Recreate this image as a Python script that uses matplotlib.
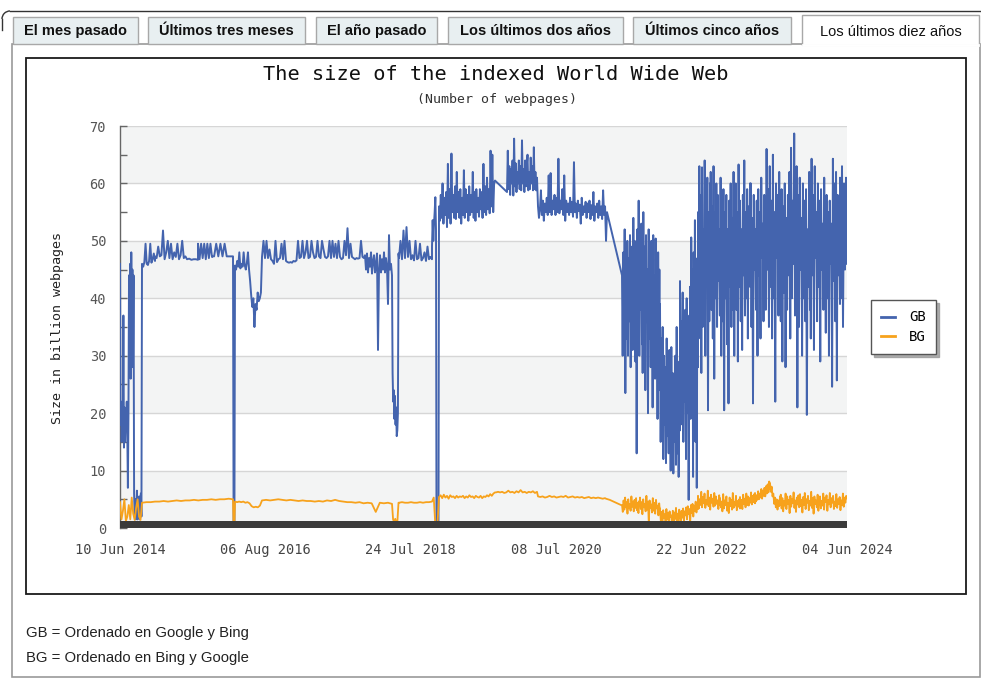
import numpy as np
import matplotlib
matplotlib.use('Agg')
import matplotlib.pyplot as plt
from matplotlib.patches import Rectangle, Arc
from matplotlib import font_manager

# ------------------------------------------------------------------
# DATA  (observation index 0..727 spans the ten-year window)
# ------------------------------------------------------------------
x_tick_labels = ['10 Jun 2014', '06 Aug 2016', '24 Jul 2018',
                 '08 Jul 2020', '22 Jun 2022', '04 Jun 2024']
n_obs = 727
series_names = ['GB', 'BG']

# GB  (Google + Bing), billions of pages -- each span = (first obs, last obs)
gb_01_span = (0, 22)
gb_01 = [46, 18, 22, 15, 20, 16, 37, 14, 21, 15, 19, 17, 22, 16, 7, 20, 44, 30, 46, 26,
         48, 33, 45, 28, 44, 6, 2, 5, 1.5, 3, 6.5, 1.5, 4, 2, 5.5, 1.5, 3, 6, 2, 43]
gb_02_span = (22, 35)
gb_02 = [46, 45.5, 46.3, 49.5, 46, 45.8, 46.5, 49.5, 46.2, 46.8, 47.8, 46.5]
gb_03_span = (35, 67)
gb_03 = [47.3, 47, 49, 47.3, 47.5, 51.8, 46.8, 48, 50, 47, 49.5, 46.8, 48, 47.2, 49.5,
         46.8, 47.5, 50, 47, 47.3, 46.8]
gb_04_span = (67, 78)
gb_04 = [46.8, 46.9, 46.7, 46.8, 46.8, 46.7]
gb_05_span = (78, 92)
gb_05 = [49.5, 46.8, 49.5, 47, 49.5, 46.8, 49.5, 47, 49.5, 47.2]
gb_06_span = (92, 113)
gb_06 = [47.3, 47.3, 49.5, 47.3, 49.5, 47.3, 49.5, 47.3, 47.3, 47.3, 47.3]
gb_07_span = (113.6, 114.4)
gb_07 = [0, 0]
gb_08_span = (115, 142)
gb_08 = [45.7, 45, 46.5, 45.5, 48, 45.2, 46, 45.5, 48, 45.8, 45, 46.2, 48, 45, 43, 40.5,
         38.5, 40, 35, 39, 38, 41, 39.5, 40, 41, 47]
gb_09_span = (142, 244)
gb_09 = [47.2, 50, 47, 50, 47, 48.5, 46.8, 46.5, 46, 50, 46.3, 46.8, 47, 49.5, 46.8, 50,
         46.5, 46.3, 46.2, 46.3, 46.2, 46.5, 46.4, 46.6, 50, 47, 47.2, 50, 47, 48, 50, 47,
         47.2, 50, 48, 47, 47.2, 50, 47.3, 47, 50, 48.5, 47.2, 47, 47.3, 50, 47, 50, 47.2,
         49.5, 47, 50, 47.2, 46.8, 47, 50, 47.5, 52.2, 47, 49.5, 47.2, 47, 46.8, 47, 46.9,
         47, 50, 47.2, 47]
gb_10_span = (245, 271)
gb_10 = [47.5, 45, 47.8, 44.5, 47, 45.5, 48, 44.3, 46.5, 47.5, 44.5, 46, 47.8, 31, 45,
         47.5, 44.5, 46.8, 45, 48, 44.5, 47, 45.5, 39, 51, 45, 46]
gb_11_span = (272, 278.5)
gb_11 = [44, 27, 22, 24, 19, 23, 18, 21, 16, 17, 20, 47.8]
gb_12_span = (279, 312)
gb_12 = [47, 50, 46.8, 51.8, 47, 52.4, 47.2, 50, 46.8, 47.5, 46.6, 50, 46.8, 47, 49.5,
         46.6, 47, 48, 46.5, 49, 46.8, 47.2, 46.8]
gb_13_span = (312, 316)
gb_13 = [49, 53.6, 50, 53, 55, 57.6, 52]
gb_14_span = (316.5, 318.5)
gb_14 = [0, 0]
gb_15_span = (319, 375)
gb_15 = [56, 53.5, 58, 54, 60, 53, 57.5, 54.5, 58.5, 52.4, 63.4, 54, 59, 53, 65.2, 55,
         58, 54, 59.5, 53.8, 62, 55, 58.5, 54, 59, 53, 57.5, 54.5, 62.3, 54, 59, 55, 58,
         53.5, 59.5, 54.5, 58, 55, 62, 54, 58.5, 53.5, 59, 55, 57.5, 54.2, 59, 55.5, 58.5,
         54, 63.4, 55, 59.5, 54.5, 61, 55.5, 59, 54.8, 65.7, 56, 65, 55, 60, 60.5]
gb_16_span = (387, 417)
gb_16 = [58.5, 65.7, 59, 63, 58, 62.5, 60, 64, 57.9, 67.8, 59.5, 63.5, 58.5, 62, 60, 64,
         59, 63, 58.8, 67.5, 60, 62.5, 58.5, 64, 59.5, 63, 65, 58.8, 62, 59, 64.5, 60, 63,
         58.8, 66.3, 59, 62, 58.8, 61]
gb_17_span = (418, 487)
gb_17 = [56, 54, 55.5, 58.8, 54.5, 57, 53.5, 56.5, 55, 57.5, 54.5, 61.4, 55, 61.8, 54.5,
         57, 55.5, 58, 54.5, 57.5, 55, 64.3, 54.8, 57, 55.5, 59, 54.5, 61.4, 53.5, 57, 55,
         56.5, 54.5, 57.5, 55, 56.8, 54.2, 63.7, 55, 56.5, 54, 57, 55.2, 56.3, 53, 57.5,
         54.5, 56, 55, 56.8, 54, 56.5, 55, 57, 53.8, 56.2, 54.5, 58.5, 53.5, 56, 55, 56.5,
         54, 57, 54.5, 56, 53.8, 58.8, 54.5, 56, 50, 55]
gb_18_span = (502, 512)
gb_18 = [44, 30, 48, 35, 52, 23.5, 45, 33, 50, 30, 47, 36, 51, 28, 46, 34]
gb_19_span = (512, 522)
gb_19 = [49, 31, 54, 36, 50, 29, 47, 13, 52, 35, 57, 30, 48, 38, 53, 32]
gb_20_span = (522, 532)
gb_20 = [46, 27, 55, 34, 49, 24, 51, 36, 45, 20, 52, 33, 48, 28, 50, 35]
gb_21_span = (532, 540)
gb_21 = [46, 21, 51, 30, 44, 26, 50.4, 33, 42, 19, 48, 29, 45, 24]
gb_22_span = (540, 550)
gb_22 = [39, 15, 33, 22, 35, 12, 30, 18, 28, 11.3, 33, 16, 26, 13, 31, 19]
gb_23_span = (550, 560)
gb_23 = [25, 10, 31.5, 14, 27, 9.5, 24, 15, 30, 11, 35, 13, 22, 8.9, 29, 17]
gb_24_span = (560, 570)
gb_24 = [43, 18, 36, 24, 41, 15, 33, 22, 38, 12, 40, 20, 32, 4.9, 37, 23]
gb_25_span = (570, 578)
gb_25 = [42, 19, 50.6, 26, 45, 8.9, 48, 30, 53.6, 15, 44, 7, 47, 28]
gb_26_span = (578, 590)
gb_26 = [55, 33, 63, 38, 58, 27, 62.8, 35, 52, 40, 64, 30, 57, 42, 61, 20.5, 55, 36, 60]
gb_27_span = (590, 602)
gb_27 = [45, 62, 38, 56, 33, 63, 26, 55, 40, 60, 35, 58, 43, 52, 37, 61, 30, 57]
gb_28_span = (602, 615)
gb_28 = [50, 36, 59, 20.5, 55, 40, 58, 32, 52, 21.7, 57, 42, 60, 35, 54, 38, 62, 30, 56]
gb_29_span = (615, 630)
gb_29 = [45, 60, 38, 55, 29, 63.3, 42, 57, 36, 52, 31, 58, 44, 64, 37, 55, 40, 59, 33,
         56, 46, 60]
gb_30_span = (630, 645)
gb_30 = [42, 60, 35, 54, 21.7, 58, 45, 52, 38, 57, 30, 59, 44, 55, 33, 61, 47, 53, 36,
         58, 41]
gb_31_span = (645, 660)
gb_31 = [56, 38, 66, 45, 59, 35, 63, 42, 57, 33, 65, 40, 55, 22, 60, 47, 58, 37, 62, 43]
gb_32_span = (660, 675)
gb_32 = [52, 36, 59, 29, 56, 41, 60, 28, 54, 38, 58, 44, 62, 33, 66.2, 40, 57, 46, 68.7, 37]
gb_33_span = (675, 690)
gb_33 = [55, 43, 63, 21, 58, 35, 61, 45, 54, 30, 60, 40, 57, 36, 59, 19.7, 52, 42, 62, 38]
gb_34_span = (690, 705)
gb_34 = [56, 33, 64.3, 44, 58, 31, 63, 47, 55, 36, 60, 42, 57, 29, 59, 45, 53, 38, 61, 41]
gb_35_span = (705, 720)
gb_35 = [50, 34, 58, 40, 55, 30, 57, 46, 53, 24.6, 64.3, 43, 60, 36, 62, 25.7, 58, 44, 56, 39]
gb_36_span = (720, 727)
gb_36 = [61, 40, 63, 35, 60, 45, 61, 46]

# BG  (Bing + Google), billions of pages
bg_01_span = (0, 22)
bg_01 = [4.5, 1.5, 3, 5, 1.2, 2, 4, 1.5, 5.3, 2.5, 1.4, 3.5, 5, 2, 1.4, 4.4]
bg_02_span = (22, 113)
bg_02 = [4.4, 4.5, 4.5, 4.6, 4.6, 4.7, 4.6, 4.7, 4.8, 4.7, 4.8, 4.8, 4.9, 4.8, 4.9, 4.9,
         5.0, 4.9, 5.0, 5.0, 5.1, 5.0]
bg_03_span = (113.6, 114.4)
bg_03 = [0, 0]
bg_04_span = (115, 142)
bg_04 = [4.6, 4.5, 4.6, 4.5, 4.6, 4.4, 4.5, 4.3, 3.8, 3.6, 3.7, 3.6, 3.9, 4.8]
bg_05_span = (142, 272)
bg_05 = [4.8, 4.9, 4.8, 4.9, 5.0, 4.9, 4.8, 4.9, 4.8, 4.7, 4.8, 4.7, 4.7, 4.6, 4.7, 4.6,
         4.8, 4.7, 4.9, 4.7, 4.6, 4.5, 4.5, 4.4, 4.5, 4.3, 4.4, 4.3, 2.8, 4.4, 4.3, 4.4, 4.2]
bg_06_span = (272, 278.5)
bg_06 = [4.2, 1.5, 1.0, 1.6, 0.8, 1.2, 4.4]
bg_07_span = (279, 312)
bg_07 = [4.4, 4.5, 4.4, 4.4, 4.5, 4.4, 4.4, 4.5, 4.4, 4.5, 4.5, 4.6]
bg_08_span = (312, 319)
bg_08 = [4.6, 5.3, 0, 0, 5.4]
bg_09_span = (319, 375)
bg_09 = [5.4, 5.7, 5.2, 5.8, 5.3, 5.6, 5.1, 5.7, 5.4, 5.5, 5.2, 5.6, 5.3, 5.5, 5.4, 5.6,
         5.2, 5.5, 5.3, 5.7, 5.4, 5.5, 5.2, 5.6, 5.4, 5.3, 5.6, 5.2, 5.5, 5.4, 5.7, 5.5,
         5.9, 5.6, 6.0, 6.2]
bg_10_span = (376, 417)
bg_10 = [6.2, 6.3, 6.2, 6.3, 6.1, 6.2, 6.5, 6.2, 6.3, 6.1, 6.4, 6.2, 6.6, 6.2, 6.3, 6.1,
         6.3, 6.2, 6.4, 6.1, 6.3]
bg_11_span = (418, 485)
bg_11 = [5.5, 5.4, 5.5, 5.3, 5.4, 5.6, 5.4, 5.5, 5.3, 5.4, 5.5, 5.4, 5.6, 5.3, 5.4, 5.5,
         5.3, 5.4, 5.3, 5.4, 5.2, 5.3, 5.4, 5.2, 5.3, 5.2, 5.3, 5.2, 5.1, 5.2]
bg_12_span = (486, 501)
bg_12 = [5.1, 4.9, 4.6, 4.3, 4.0]
bg_13_span = (502, 520)
bg_13 = [4.0, 2.8, 4.8, 3.2, 5.3, 3.6, 4.5, 2.5, 5.0, 3.4, 4.2, 3.0, 5.5, 3.7, 4.6, 2.9,
         4.9, 3.5, 5.2, 3.1, 4.4, 2.6, 4.7, 3.8]
bg_14_span = (520, 540)
bg_14 = [5.3, 3.3, 4.5, 2.4, 5.0, 3.6, 4.2, 2.9, 5.6, 3.2, 4.6, 0.8, 4.8, 3.5, 4.1, 2.7,
         5.2, 3.0, 4.4, 2.5, 4.9, 3.4, 3.9, 2.2, 4.3, 2.8]
bg_15_span = (540, 560)
bg_15 = [3.4, 1.3, 2.8, 0.9, 3.1, 1.7, 2.4, 0.6, 3.3, 1.5, 2.6, 0.8, 2.9, 1.9, 2.2, 0.5,
         3.0, 1.2, 2.7, 1.6, 3.5, 1.0, 2.5, 0.7, 3.2, 1.8]
bg_16_span = (560, 578)
bg_16 = [2.6, 1.2, 3.0, 1.8, 3.4, 1.1, 2.9, 2.2, 3.6, 1.5, 3.8, 2.4, 3.3, 0.9, 4.0, 2.6,
         4.2, 2.0, 3.9, 3.0, 4.6, 2.7, 4.4, 3.3]
bg_17_span = (578, 600)
bg_17 = [5.6, 3.4, 5.0, 4.0, 6.3, 3.6, 5.4, 4.3, 6.0, 3.5, 4.9, 4.1, 6.5, 3.8, 5.3, 3.2,
         5.8, 4.4, 5.1, 3.7, 6.1, 3.9, 5.5, 4.2, 4.8, 3.3, 5.7, 4.0]
bg_18_span = (600, 620)
bg_18 = [5.2, 3.6, 4.6, 2.9, 5.9, 3.4, 4.8, 4.0, 5.5, 3.0, 4.4, 2.6, 5.3, 3.8, 4.9, 3.2,
         6.1, 3.5, 4.5, 3.9, 5.6, 3.1, 4.7, 3.7, 5.0, 3.4]
bg_19_span = (620, 635)
bg_19 = [5.4, 3.8, 4.9, 3.3, 5.8, 4.2, 5.1, 3.6, 6.0, 4.0, 5.5, 3.9, 5.2, 4.4, 6.2, 4.1,
         5.6, 4.5, 5.9, 4.3]
bg_20_span = (635, 650)
bg_20 = [6.1, 4.6, 5.7, 4.9, 6.4, 5.0, 6.0, 5.3, 6.8, 5.1, 6.5, 5.6, 7.0, 5.5, 7.3, 6.0,
         7.6, 6.2, 8.1, 6.8]
bg_21_span = (650, 660)
bg_21 = [7.8, 6.3, 7.2, 5.5, 6.0, 4.2, 5.3, 3.6, 5.0, 3.2, 4.8, 3.8, 5.5]
bg_22_span = (660, 680)
bg_22 = [4.0, 5.8, 3.4, 5.2, 2.9, 4.7, 3.9, 6.0, 3.3, 5.5, 4.2, 4.9, 2.6, 5.6, 3.7, 5.1,
         4.3, 6.2, 3.5, 4.8, 2.8, 5.3, 4.1, 5.7, 3.6, 4.6]
bg_23_span = (680, 700)
bg_23 = [5.9, 3.8, 4.9, 2.7, 5.4, 4.0, 6.1, 3.3, 5.0, 4.4, 5.6, 3.1, 4.7, 3.9, 6.3, 3.5,
         5.2, 2.5, 5.5, 4.2, 4.8, 3.6, 5.8, 3.0, 5.1, 4.3]
bg_24_span = (700, 727)
bg_24 = [5.5, 3.4, 4.7, 3.9, 6.0, 3.2, 5.3, 4.5, 5.7, 3.0, 4.9, 4.1, 6.1, 3.6, 5.2, 4.4,
         5.6, 3.3, 4.6, 3.8, 5.9, 3.5, 5.0, 4.2, 5.4, 3.1, 4.8, 4.0, 6.0, 3.7, 5.3, 4.4,
         5.6, 5.2]

g = globals()
gb_parts = [(g['gb_%02d_span' % i], g['gb_%02d' % i]) for i in range(1, 37)]
bg_parts = [(g['bg_%02d_span' % i], g['bg_%02d' % i]) for i in range(1, 25)]


def assemble(parts):
    t, v = [], []
    for (a, b), vals in parts:
        t.extend(np.linspace(a, b, len(vals)))
        v.extend(vals)
    return np.array(t), np.array(v)


gb_t, gb_v = assemble(gb_parts)
bg_t, bg_v = assemble(bg_parts)

# ------------------------------------------------------------------
# STYLE / LAYOUT
# ------------------------------------------------------------------
W, H = 981, 679
names = {f.name for f in font_manager.fontManager.ttflist}
SANS = 'Liberation Sans' if 'Liberation Sans' in names else 'DejaVu Sans'
MONO = 'DejaVu Sans Mono'
C_GB = '#4464ae'
C_BG = '#f7a21c'


def fx(x):
    return x / W


def fy(y):
    return 1 - y / H


fig = plt.figure(figsize=(W / 100, H / 100), dpi=100)
fig.patch.set_facecolor('white')

# outer container corner
fig.add_artist(plt.Line2D([fx(10), fx(981)], [fy(11), fy(11)], transform=fig.transFigure,
                          color='#333', lw=1.0))
fig.add_artist(Arc((fx(10), fy(19)), 2 * 8 / W, 2 * 8 / H, theta1=90, theta2=180,
                   transform=fig.transFigure, color='#333', lw=1.0))
fig.add_artist(plt.Line2D([fx(2), fx(2)], [fy(19), fy(30)], transform=fig.transFigure,
                          color='#333', lw=1.0))

# outer panel
fig.add_artist(Rectangle((fx(12), fy(677)), fx(980) - fx(12), fy(44) - fy(677),
                         transform=fig.transFigure, fill=False, ec='#9a9a9a', lw=1.2))

# tabs
tabs = [('El mes pasado', 13, 138), ('Últimos tres meses', 148, 305),
        ('El año pasado', 316, 437), ('Los últimos dos años', 448, 623),
        ('Últimos cinco años', 633, 791), ('Los últimos diez años', 802, 979)]
for i, (label, x0, x1) in enumerate(tabs):
    active = i == len(tabs) - 1
    top = 15 if active else 17
    bot = 45 if active else 44
    fig.add_artist(Rectangle((fx(x0), fy(bot)), fx(x1) - fx(x0), fy(top) - fy(bot),
                             transform=fig.transFigure,
                             fc='white' if active else '#e8eff1',
                             ec='#a8a8a8', lw=1.0, zorder=3))
    fig.text(fx((x0 + x1) / 2), fy(31 if not active else 32), label, ha='center', va='center',
             fontsize=10.5, family=SANS, weight='normal' if active else 'bold',
             color='#111', zorder=4)
# hide bottom border of the active tab
fig.add_artist(plt.Line2D([fx(803), fx(978)], [fy(45), fy(45)], transform=fig.transFigure,
                          color='white', lw=2, zorder=5))

# chart frame
fig.add_artist(Rectangle((fx(26), fy(594)), fx(966) - fx(26), fy(58) - fy(594),
                         transform=fig.transFigure, fill=False, ec='#1a1a1a', lw=1.3))

fig.text(fx(496), fy(74), 'The size of the indexed World Wide Web', ha='center',
         va='center', fontsize=14.6, family=MONO, color='#111')
fig.text(fx(497), fy(100), '(Number of webpages)', ha='center', va='center',
         fontsize=9.5, family=MONO, color='#333')
fig.text(fx(58), fy(328), 'Size in billion webpages', ha='center', va='center',
         rotation=90, fontsize=9.6, family=MONO, color='#222')

ax = fig.add_axes([fx(120), fy(528), fx(847) - fx(120), fy(126) - fy(528)])
ax.set_xlim(0, n_obs)
ax.set_ylim(0, 70)
for y0 in (0, 20, 40, 60):
    ax.axhspan(y0, y0 + 10, color='#f3f4f4', lw=0, zorder=0)
ax.set_yticks(range(0, 71, 10))
ax.set_yticks(range(5, 70, 10), minor=True)
ax.yaxis.grid(True, which='major', color='#d6d6d6', lw=1.0, zorder=1)
ax.set_axisbelow(True)
ax.tick_params(axis='y', which='both', direction='in', length=5, width=1,
               color='#666', pad=10, labelsize=9.8, labelcolor='#555')
ax.set_xticks(np.linspace(0, n_obs, len(x_tick_labels)))
ax.set_xticklabels(x_tick_labels)
ax.tick_params(axis='x', length=0, pad=11, labelsize=9.8, labelcolor='#444')
for lab in ax.get_xticklabels() + ax.get_yticklabels():
    lab.set_family(MONO)
for s in ('top', 'right', 'bottom'):
    ax.spines[s].set_visible(False)
ax.spines['left'].set_color('#666')
ax.spines['left'].set_linewidth(1.0)

ax.plot(gb_t, gb_v, color=C_GB, lw=1.4, zorder=3, label=series_names[0])
ax.plot(bg_t, bg_v, color=C_BG, lw=1.3, zorder=4, label=series_names[1])
ax.axhspan(0, 1.15, color='#3b3b3b', lw=0, zorder=6)

leg = ax.legend(loc='upper left', bbox_to_anchor=(fx(871), fy(300)),
                bbox_transform=fig.transFigure, prop={'family': MONO, 'size': 10},
                frameon=True, fancybox=False, edgecolor='#555', framealpha=1,
                handlelength=1.0, handletextpad=1.0, borderpad=0.75, labelspacing=0.4,
                borderaxespad=0, shadow={'color': '#999', 'alpha': 0.8})
leg.get_frame().set_linewidth(1.0)
for ln in leg.get_lines():
    ln.set_linewidth(2.0)

fig.text(fx(26), fy(633), 'GB = Ordenado en Google y Bing', ha='left', va='center',
         fontsize=10.7, family=SANS, color='#222')
fig.text(fx(26), fy(658), 'BG = Ordenado en Bing y Google', ha='left', va='center',
         fontsize=10.7, family=SANS, color='#222')

fig.savefig('out.png', dpi=100, facecolor='white')
